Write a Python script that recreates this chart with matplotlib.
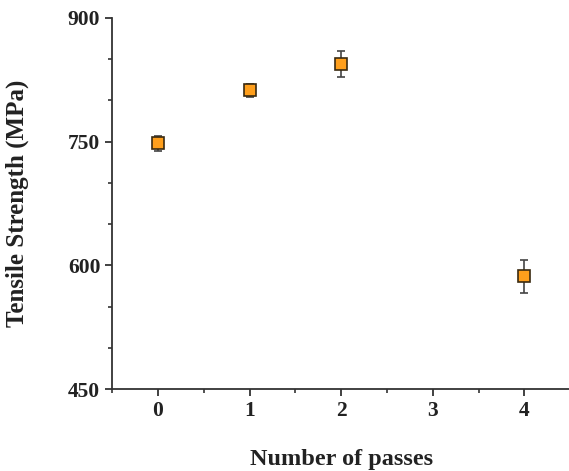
import matplotlib.pyplot as plt
from matplotlib.ticker import MultipleLocator

passes = [0, 1, 2, 4]
strength = [748, 812, 844, 587]
err = [9, 8, 16, 20]

plt.rcParams['font.family'] = ['Liberation Serif', 'DejaVu Serif']
plt.rcParams['font.weight'] = 'bold'

fig = plt.figure(figsize=(5.69, 4.71), dpi=100)
ax = fig.add_axes([0.197, 0.174, 0.805, 0.788])

ax.errorbar(passes, strength, yerr=err, fmt='s', ms=8, mfc='#FF9F1C', mec='#3a2a10',
            mew=1.2, ecolor='#444444', elinewidth=1.2, capsize=3, capthick=1.2)

ax.set_xlim(-0.5, 4.5)
ax.set_ylim(450, 900)
ax.set_xticks([0, 1, 2, 3, 4])
ax.set_yticks([450, 600, 750, 900])
ax.xaxis.set_minor_locator(MultipleLocator(0.5))
ax.yaxis.set_minor_locator(MultipleLocator(50))

for s in ['top', 'right']:
    ax.spines[s].set_visible(False)
for s in ['left', 'bottom']:
    ax.spines[s].set_color('#333333')
    ax.spines[s].set_linewidth(1.3)

ax.tick_params(which='major', direction='out', length=5, width=1.3, color='#333333',
               labelsize=15.5, labelcolor='#222222')
ax.tick_params(which='minor', direction='out', length=3, width=1.2, color='#333333')

ax.set_xlabel('Number of passes', fontsize=17.5, fontweight='bold', color='#222222', labelpad=20)
ax.set_ylabel('Tensile Strength (MPa)', fontsize=18, fontweight='bold', color='#222222', labelpad=28)

fig.savefig('out.png', dpi=100)
